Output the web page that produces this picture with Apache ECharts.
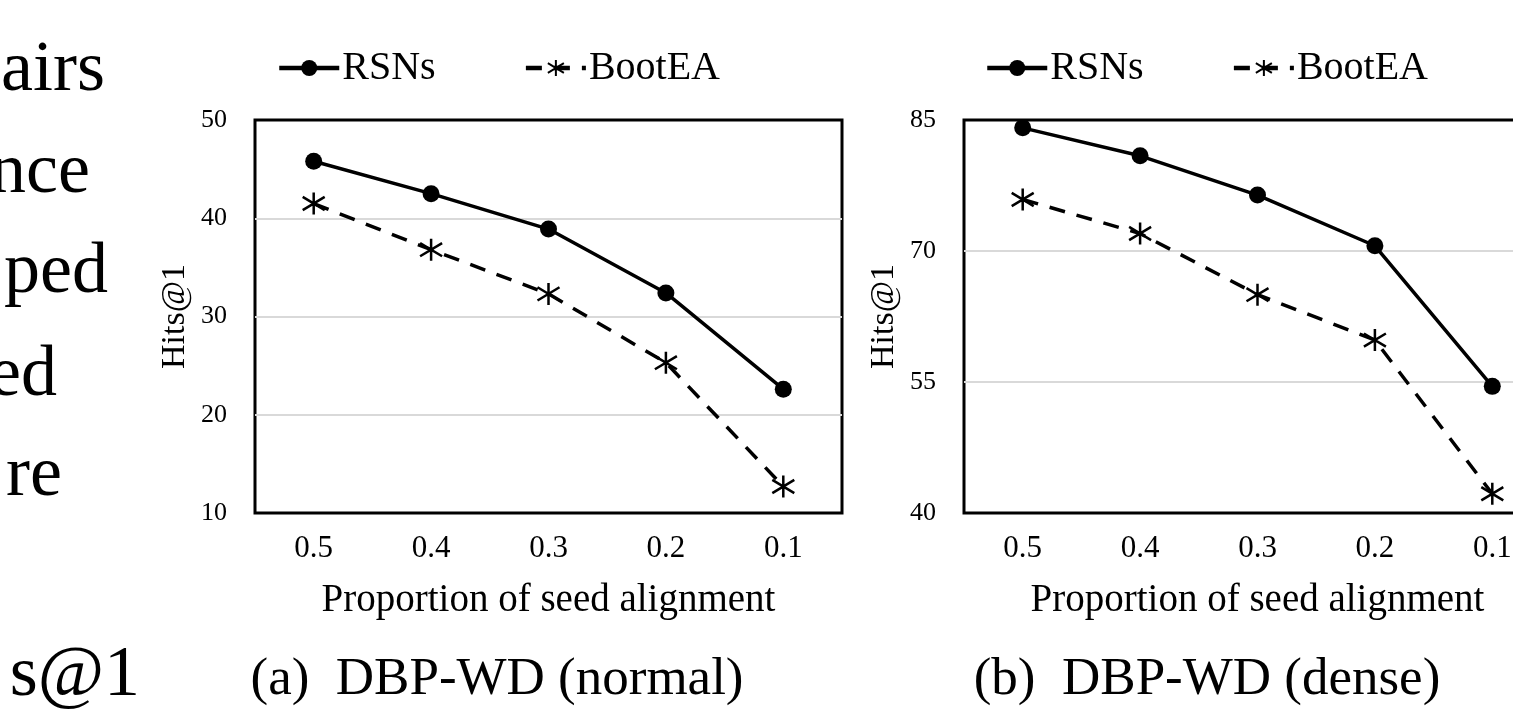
<!DOCTYPE html>
<html>
<head>
<meta charset="utf-8">
<script src="https://cdn.jsdelivr.net/npm/echarts@6/dist/echarts.min.js"></script>
<style>
  html, body { margin: 0; padding: 0; background: #fff; }
  #container { width: 1513px; height: 713px; }
</style>
</head>
<body>
<div id="container"></div>
<script>
// data
var proportions = ['0.5', '0.4', '0.3', '0.2', '0.1'];
var rsnsNormal = [45.8, 42.5, 38.9, 32.4, 22.6];
var bootNormal = [41.5, 36.8, 32.3, 25.3, 12.7];
var rsnsDense = [84.1, 80.9, 76.4, 70.6, 54.5];
var bootDense = [75.9, 72.0, 65.0, 59.8, 42.2];

// cut-off body text on the left of the page
var sideText = [
    { text: 'airs', x: 105, y: 71 },
    { text: 'nce', x: 90, y: 173 },
    { text: 'ped', x: 108, y: 273 },
    { text: 'ed', x: 57, y: 376 },
    { text: 're', x: 62, y: 476 },
    { text: 's@1', x: 140, y: 676 }
];

var serif = 'Liberation Serif';
var container = document.getElementById('container');
var charts = echarts.init(container);

var starPath = 'path://M10,0L10,20M1,4L19,16M1,16L19,4';

function makeXAxis(idx) {
    return {
        type: 'category',
        gridIndex: idx,
        data: proportions,
        boundaryGap: true,
        name: 'Proportion of seed alignment',
        nameLocation: 'middle',
        nameGap: 68,
        nameTextStyle: { fontFamily: serif, fontSize: 39, color: '#000' },
        axisLine: { show: false },
        axisTick: { show: false },
        axisLabel: { fontFamily: serif, fontSize: 31, color: '#000', margin: 20 }
    };
}

function makeYAxis(idx, min, max, step) {
    return {
        type: 'value',
        gridIndex: idx,
        min: min,
        max: max,
        interval: step,
        name: 'Hits@1',
        nameLocation: 'middle',
        nameGap: 63,
        nameTextStyle: { fontFamily: serif, fontSize: 34, color: '#000' },
        axisLine: { show: false },
        axisTick: { show: false },
        axisLabel: { fontFamily: serif, fontSize: 26, color: '#000', margin: 28 },
        splitLine: {
            showMinLine: false,
            showMaxLine: false,
            lineStyle: { color: '#d9d9d9', width: 2 }
        }
    };
}

function rsnsSeries(idx, values) {
    return {
        name: 'RSNs',
        type: 'line',
        xAxisIndex: idx,
        yAxisIndex: idx,
        data: values,
        symbol: 'circle',
        symbolSize: 17,
        lineStyle: { color: '#000', width: 3.5 },
        itemStyle: { color: '#000' }
    };
}

function bootSeries(idx, values) {
    return {
        name: 'BootEA',
        type: 'line',
        xAxisIndex: idx,
        yAxisIndex: idx,
        data: values,
        symbol: starPath,
        symbolSize: 22,
        lineStyle: { color: '#000', width: 3.5, type: [16, 12] },
        itemStyle: { color: 'none', borderColor: '#000', borderWidth: 2.5 }
    };
}

function makeLegend(left) {
    return {
        left: left,
        top: 48,
        padding: 0,
        itemWidth: 60,
        itemHeight: 20,
        itemGap: 88,
        data: ['RSNs', 'BootEA'],
        lineStyle: { width: 4.5 },
        textStyle: { fontFamily: serif, fontSize: 40, color: '#000', padding: [0, 0, 0, -2] }
    };
}

var graphics = sideText.map(function (t) {
    return {
        type: 'text',
        x: t.x,
        y: t.y,
        style: { text: t.text, font: '72px ' + serif, fill: '#000', align: 'right', verticalAlign: 'middle' }
    };
});
graphics.push({
    type: 'text', x: 497, y: 680,
    style: { text: '(a)  DBP-WD (normal)', font: '53px ' + serif, fill: '#000', align: 'center', verticalAlign: 'middle' }
});
graphics.push({
    type: 'text', x: 1207, y: 680,
    style: { text: '(b)  DBP-WD (dense)', font: '53px ' + serif, fill: '#000', align: 'center', verticalAlign: 'middle' }
});

var option = {
    backgroundColor: '#fff',
    animation: false,
    legend: [makeLegend(277), makeLegend(985)],
    grid: [
        { left: 255, top: 120, width: 587, height: 393, outerBoundsMode: 'none',
          show: true, borderColor: '#000', borderWidth: 3 },
        { left: 964, top: 120, width: 587, height: 393, outerBoundsMode: 'none',
          show: true, borderColor: '#000', borderWidth: 3 }
    ],
    xAxis: [makeXAxis(0), makeXAxis(1)],
    yAxis: [makeYAxis(0, 10, 50, 10), makeYAxis(1, 40, 85, 15)],
    series: [
        rsnsSeries(0, rsnsNormal),
        bootSeries(0, bootNormal),
        rsnsSeries(1, rsnsDense),
        bootSeries(1, bootDense)
    ],
    graphic: graphics
};

charts.setOption(option, true);
</script>
</body>
</html>
